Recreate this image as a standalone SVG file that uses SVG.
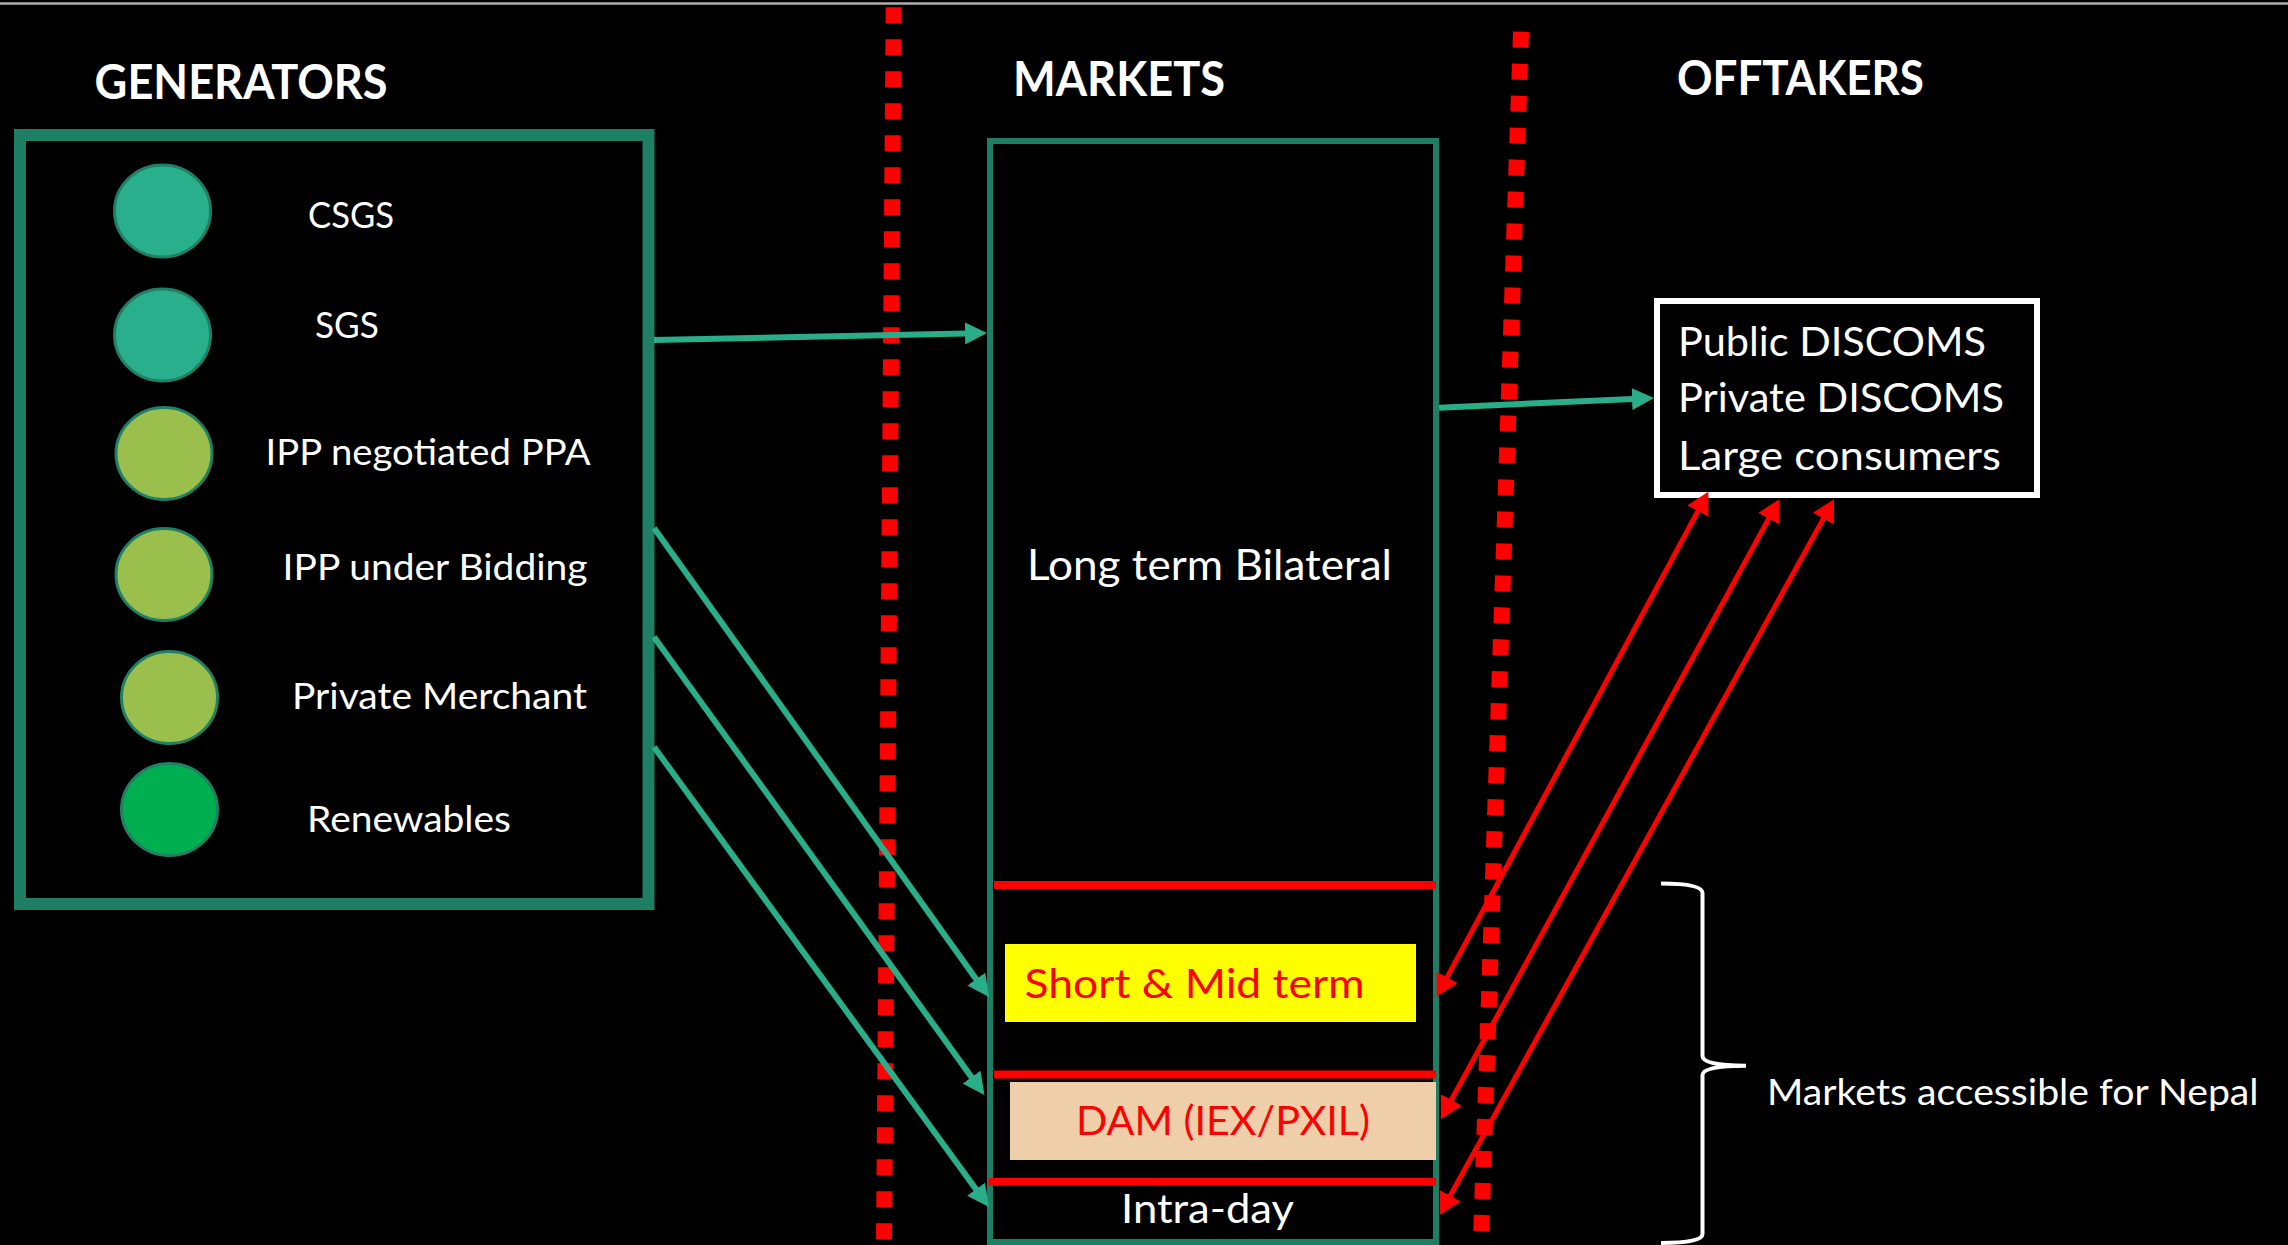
<svg xmlns="http://www.w3.org/2000/svg" width="2288" height="1245" viewBox="0 0 2288 1245">
<style>
  .hdr { font-family: Lato, "Open Sans", "Liberation Sans", sans-serif; font-weight: bold; font-size: 47px; fill: #ffffff; }
  .lbl { font-family: Lato, "Open Sans", "Liberation Sans", sans-serif; font-size: 37px; fill: #ffffff; }
  .big { font-family: Lato, "Open Sans", "Liberation Sans", sans-serif; font-size: 40px; fill: #ffffff; }
  .redt { fill: #ff0000; }
  .teal { fill: #2aaf8c; stroke: #1f8066; stroke-width: 3; }
  .olive { fill: #9bbf4d; stroke: #1f8066; stroke-width: 3; }
  .rnw { fill: #00b050; stroke: #1f8066; stroke-width: 3; }
  .tconn { stroke: #2aae8a; stroke-width: 6; fill: none; marker-end: url(#tarrow); }
  .rconn { stroke: #ff0000; stroke-width: 5; fill: none; marker-start: url(#rarrow); marker-end: url(#rarrow); }
  .dots { stroke: #ff0000; stroke-width: 16; stroke-dasharray: 16 16; fill: none; }
  .sep { stroke: #ff0000; stroke-width: 8; }
</style>
<defs>
  <marker id="tarrow" markerUnits="userSpaceOnUse" viewBox="0 0 22 22" refX="12" refY="11" markerWidth="22" markerHeight="22" orient="auto-start-reverse">
    <path d="M0,0 L22,11 L0,22 z" fill="#2aae8a"/>
  </marker>
  <marker id="rarrow" markerUnits="userSpaceOnUse" viewBox="0 0 22 24" refX="12" refY="12" markerWidth="22" markerHeight="24" orient="auto-start-reverse">
    <path d="M0,0 L22,12 L0,24 z" fill="#ff0000"/>
  </marker>
</defs>
<rect x="0" y="0" width="2288" height="1245" fill="#000000"/>
<line x1="0" y1="3.5" x2="2288" y2="3.5" stroke="#b0b0b0" stroke-width="2.5"/>

<g id="dividers">
  <line class="dots" x1="893.7" y1="7.3" x2="884" y2="1245"/>
  <line class="dots" x1="1521" y1="31.7" x2="1481" y2="1240"/>
</g>

<g id="headers">
  <text class="hdr" x="94.6" y="99" textLength="293" lengthAdjust="spacingAndGlyphs">GENERATORS</text>
  <text class="hdr" x="1013" y="96" textLength="212" lengthAdjust="spacingAndGlyphs">MARKETS</text>
  <text class="hdr" x="1677" y="95" textLength="247" lengthAdjust="spacingAndGlyphs">OFFTAKERS</text>
</g>

<g id="generators">
  <rect x="20" y="135" width="628.5" height="769" fill="none" stroke="#1e7f65" stroke-width="12"/>
  <g id="gen-csgs">
    <ellipse class="teal" cx="162.5" cy="211" rx="48" ry="46"/>
    <text class="lbl" x="308" y="228" textLength="86" lengthAdjust="spacingAndGlyphs">CSGS</text>
  </g>
  <g id="gen-sgs">
    <ellipse class="teal" cx="162.5" cy="335" rx="48" ry="46"/>
    <text class="lbl" x="315" y="338" textLength="64" lengthAdjust="spacingAndGlyphs">SGS</text>
  </g>
  <g id="gen-ipp-ppa">
    <ellipse class="olive" cx="164" cy="453.5" rx="48" ry="46"/>
    <text class="lbl" x="265.6" y="465" textLength="325" lengthAdjust="spacingAndGlyphs">IPP negotiated PPA</text>
  </g>
  <g id="gen-ipp-bid">
    <ellipse class="olive" cx="164" cy="574.5" rx="48" ry="46"/>
    <text class="lbl" x="282.6" y="580" textLength="305" lengthAdjust="spacingAndGlyphs">IPP under Bidding</text>
  </g>
  <g id="gen-merchant">
    <ellipse class="olive" cx="169.5" cy="697.5" rx="48" ry="46"/>
    <text class="lbl" x="292" y="709" textLength="295" lengthAdjust="spacingAndGlyphs">Private Merchant</text>
  </g>
  <g id="gen-renewables">
    <ellipse class="rnw" cx="169.5" cy="809.5" rx="48" ry="46"/>
    <text class="lbl" x="307" y="832" textLength="204" lengthAdjust="spacingAndGlyphs">Renewables</text>
  </g>
</g>

<g id="markets">
  <rect x="990" y="141" width="446" height="1101" fill="none" stroke="#1e7f65" stroke-width="6"/>
  <g id="mkt-long">
    <text class="big" style="font-size:43px" x="1027" y="580" textLength="365" lengthAdjust="spacingAndGlyphs">Long term Bilateral</text>
  </g>
  <line class="sep" x1="994" y1="885" x2="1436" y2="885"/>
  <g id="mkt-short">
    <rect x="1005" y="944" width="411" height="78" fill="#ffff00"/>
    <text class="big redt" x="1024.6" y="998" textLength="340" lengthAdjust="spacingAndGlyphs">Short &amp; Mid term</text>
  </g>
  <line class="sep" x1="994" y1="1074.5" x2="1436" y2="1074.5"/>
  <g id="mkt-dam">
    <rect x="1010" y="1082" width="426" height="78" fill="#efcfa9"/>
    <text class="big redt" x="1076" y="1135" textLength="294" lengthAdjust="spacingAndGlyphs">DAM (IEX/PXIL)</text>
  </g>
  <line class="sep" x1="988.5" y1="1181.7" x2="1436" y2="1181.7"/>
  <g id="mkt-intraday">
    <text class="big" x="1121" y="1223" textLength="173" lengthAdjust="spacingAndGlyphs">Intra-day</text>
  </g>
</g>

<g id="offtakers">
  <rect x="1657" y="301" width="380" height="194" fill="none" stroke="#ffffff" stroke-width="6"/>
  <text class="big" x="1678" y="355.7" textLength="308" lengthAdjust="spacingAndGlyphs">Public DISCOMS</text>
  <text class="big" x="1678" y="412.3" textLength="326" lengthAdjust="spacingAndGlyphs">Private DISCOMS</text>
  <text class="big" x="1678" y="470" textLength="323" lengthAdjust="spacingAndGlyphs">Large consumers</text>
</g>

<g id="nepal-note">
  <path d="M1661,883.5 Q1702.5,883.5 1702.5,893 L1702.5,1056 Q1702.5,1065.7 1746,1065.7 Q1702.5,1065.7 1702.5,1075 L1702.5,1234 Q1702.5,1243 1661,1243" fill="none" stroke="#ffffff" stroke-width="4"/>
  <text class="lbl" style="font-size:36px" x="1767" y="1105" textLength="491.6" lengthAdjust="spacingAndGlyphs">Markets accessible for Nepal</text>
</g>

<g id="connectors">
  <line class="tconn" x1="654" y1="340" x2="977" y2="333.2"/>
  <line class="tconn" x1="1439" y1="407.7" x2="1644" y2="398.45"/>
  <line class="tconn" x1="654" y1="528" x2="983.2" y2="988.9"/>
  <line class="tconn" x1="654" y1="637" x2="978.6" y2="1086.9"/>
  <line class="tconn" x1="654" y1="747" x2="983.1" y2="1198.9"/>
  <line class="rconn" x1="1703.6" y1="500.5" x2="1441.4" y2="987.9"/>
  <line class="rconn" x1="1774.5" y1="508.1" x2="1445.6" y2="1110.5"/>
  <line class="rconn" x1="1829.2" y1="508.1" x2="1444.4" y2="1206.2"/>
</g>
</svg>
